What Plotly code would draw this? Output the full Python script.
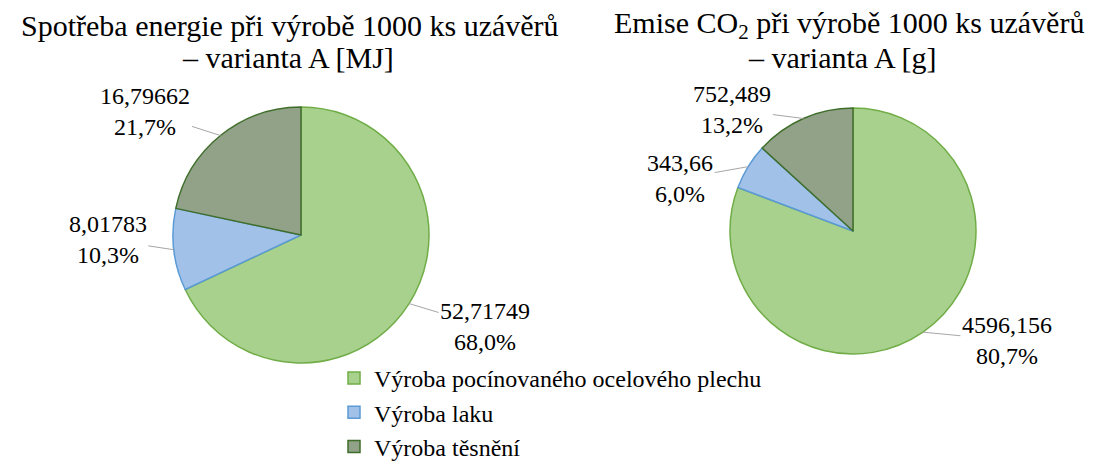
import math
import plotly.graph_objects as go

# ---- data ----
categories = ["Výroba pocínovaného ocelového plechu", "Výroba laku", "Výroba těsnění"]
energy_mj = [52.71749, 8.01783, 16.79662]
co2_g = [4596.156, 343.66, 752.489]
title_energy = ["Spotřeba energie při výrobě 1000 ks uzávěrů", "– varianta A [MJ]"]
title_co2 = ["Emise CO<sub>2</sub> při výrobě 1000 ks uzávěrů", "– varianta A [g]"]

# ---- style / layout ----
W, H = 1097, 461
FONT = "Liberation Serif"
fills = ["#a9d18e", "#a2c1e8", "#91a289"]
borders = ["#70ad47", "#5b9bd5", "#3f6e2a"]

# pie geometry in pixels: (cx, cy, r), title centres x and line y's
pie_geom = [(301, 235, 128), (853, 231, 123)]
title_pos = [((290, 25), (288, 58)), ((849, 25), (842, 58))]
# data-label offsets (px) from the slice's outer edge at its mid angle
label_offsets = [[(76, 23), (-66, -10), (-75, -24)],
                 [(84, 8), (-68, 12), (-71, -9)]]


def fmt(v):
    return repr(v).replace(".", ",")


fig = go.Figure()
annotations = []
series = [(energy_mj, title_energy), (co2_g, title_co2)]
for i, (vals, title) in enumerate(series):
    cx, cy, r = pie_geom[i]
    total = sum(vals)
    fig.add_trace(go.Pie(
        labels=categories, values=vals, sort=False, direction="clockwise",
        rotation=0, textinfo="none", hoverinfo="label+value+percent",
        marker=dict(colors=fills, line=dict(color=borders, width=1.5)),
        domain=dict(x=[(cx - r) / W, (cx + r) / W], y=[1 - (cy + r) / H, 1 - (cy - r) / H]),
        showlegend=(i == 0),
    ))
    cum = 0.0
    for j, v in enumerate(vals):
        mid = (cum + v / 2) / total * 2 * math.pi
        cum += v
        s, c = math.sin(mid), -math.cos(mid)
        ex, ey = cx + r * s, cy + r * c
        ax, ay = label_offsets[i][j]
        pct = ("%.1f" % (v / total * 100)).replace(".", ",") + "%"
        annotations.append(dict(
            x=ex / W, y=1 - ey / H, xref="paper", yref="paper",
            text=fmt(v) + "<br>" + pct, showarrow=True, arrowhead=0,
            arrowwidth=1, arrowcolor="#a6a6a6", ax=ax, ay=ay,
            font=dict(family=FONT, size=24, color="#000000"), align="center",
        ))
    for line, (tx, ty) in zip(title, title_pos[i]):
        annotations.append(dict(
            x=tx / W, y=1 - ty / H, xref="paper", yref="paper",
            xanchor="center", yanchor="middle", text=line, showarrow=False,
            font=dict(family=FONT, size=30, color="#000000"),
        ))

fig.update_layout(
    width=W, height=H,
    margin=dict(l=0, r=0, t=0, b=0, autoexpand=False),
    paper_bgcolor="white", plot_bgcolor="white",
    font=dict(family=FONT, size=24, color="#000000"),
    annotations=annotations,
    legend=dict(x=334 / W, y=1 - 356 / H, xanchor="left", yanchor="top",
                font=dict(family=FONT, size=24, color="#000000"),
                tracegroupgap=0, bgcolor="rgba(0,0,0,0)"),
)

fig.write_html("out.html", config={"displayModeBar": False},
               post_script="document.body.style.margin='0';")
